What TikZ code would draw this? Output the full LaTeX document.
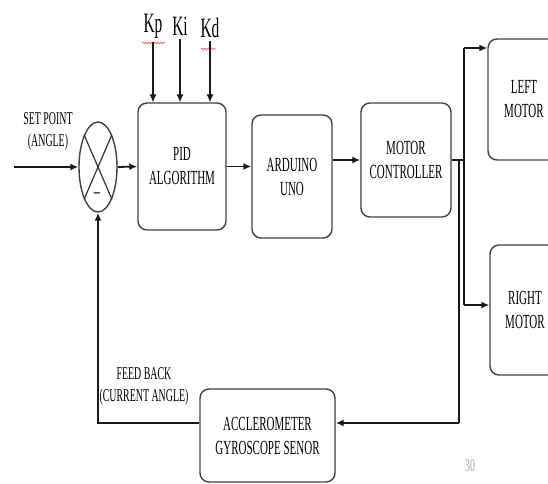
\documentclass[tikz,border=0pt]{standalone}
\usepackage{fontspec}
\setmainfont[FakeStretch=0.55]{Liberation Serif}
\usetikzlibrary{arrows.meta,positioning,shapes.geometric,calc,decorations.pathmorphing}

\begin{document}
\begin{tikzpicture}[x=1pt, y=-1pt,
    every node/.style={font=\fontsize{20}{24}\selectfont, text=black},
    blockbox/.style={draw=black!75, line width=1.4pt, rounded corners=9pt, align=center, inner sep=0pt},
    flow/.style={line width=1.8pt, draw=black!90, -{Latex[length=8pt,width=7pt]}},
    wire/.style={line width=1.8pt, draw=black!90}]
    \clip (0,0) rectangle (548,483);

    % Summing junction
    \node[ellipse, draw=black!75, line width=1.4pt, minimum width=38pt, minimum height=90pt, inner sep=0pt] (sum) at (98,167) {};
    \draw[line width=1.2pt, black!80] (sum.north west) -- (sum.south east) (sum.north east) -- (sum.south west);
    \node[font=\fontsize{22}{22}\selectfont] (minus) at (97,196) {--};

    % Blocks
    \node[blockbox, minimum width=88pt, minimum height=127pt] (pid) at (182,166.5) {PID\\ALGORITHM};
    \node[blockbox, minimum width=80pt, minimum height=123pt] (arduino) at (292,176.5) {ARDUINO\\UNO};
    \node[blockbox, minimum width=90pt, minimum height=114pt] (motorctrl) at (406,160) {MOTOR\\CONTROLLER};
    \node[blockbox, minimum width=72pt, minimum height=121pt] (leftmotor) at (524,99.5) {LEFT\\MOTOR};
    \node[blockbox, minimum width=70pt, minimum height=130pt] (rightmotor) at (525,310) {RIGHT\\MOTOR};
    \node[blockbox, minimum width=135pt, minimum height=93pt] (sensor) at (267.5,435.5) {ACCLEROMETER\\GYROSCOPE SENOR};

    % Gains
    \node[font=\fontsize{28}{28}\selectfont] (kp) at (153,26) {Kp};
    \node[font=\fontsize{28}{28}\selectfont] (ki) at (180,26) {Ki};
    \node[font=\fontsize{28}{28}\selectfont] (kd) at (210,28) {Kd};
    \draw[red!60, line width=0.8pt, decorate, decoration={snake, amplitude=0.8pt, segment length=3pt}] (142,43) -- (165,43);
    \draw[red!60, line width=0.8pt, decorate, decoration={snake, amplitude=0.8pt, segment length=3pt}] (201,49) -- (216,49);
    \draw[flow, line width=1.1pt] (kp.south) -- (kp.south |- pid.north);
    \draw[flow, line width=1.1pt] (ki.south) -- (ki.south |- pid.north);
    \draw[flow, line width=1.1pt] (kd.south) -- (kd.south |- pid.north);

    % Labels
    \node[align=center, font=\fontsize{18}{22}\selectfont] (setlabel) at (48,131) {SET POINT\\(ANGLE)};
    \node[align=center, font=\fontsize{18}{22}\selectfont] (fblabel) at (144,386) {FEED BACK\\(CURRENT ANGLE)};
    \node[text=black!35, font=\fontsize{18}{18}\selectfont] (pagenum) at (470,466) {30};

    % Forward path
    \coordinate (spin) at (14,167);
    \draw[flow] (spin) -- (sum.west);
    \draw[flow] (sum.east) -- (pid.west);
    \draw[flow] (pid.east) -- (pid.east -| arduino.west);
    \draw[flow] (motorctrl.west -| arduino.east) -- (motorctrl.west);

    % Motor outputs
    \coordinate (topbus) at (464,48);
    \coordinate (botbus) at (464,305);
    \draw[wire] (motorctrl.east) -- (motorctrl.east -| topbus);
    \draw[wire] (topbus) -- (botbus);
    \draw[flow] (topbus) -- (topbus -| leftmotor.west);
    \draw[flow] (botbus) -- (botbus -| rightmotor.west);

    % Feedback path
    \coordinate (fbtap) at (459,423);
    \coordinate (fbcorner) at (98,423);
    \draw[wire] (motorctrl.east -| fbtap) -- (fbtap);
    \draw[flow] (fbtap) -- (fbtap -| sensor.east);
    \draw[flow] (fbcorner -| sensor.west) -- (fbcorner) -- (sum.south);
\end{tikzpicture}
\end{document}
